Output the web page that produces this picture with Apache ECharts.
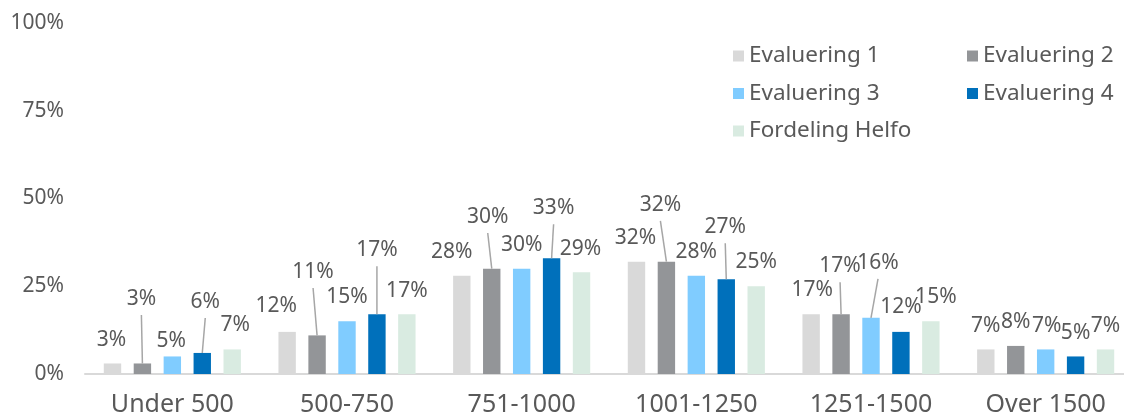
<!DOCTYPE html>
<html>
<head>
<meta charset="utf-8">
<script src="https://cdn.jsdelivr.net/npm/echarts@6/dist/echarts.min.js"></script>
<style>
html,body{margin:0;padding:0;background:#fff;}
#chart{width:1124px;height:414px;}
</style>
</head>
<body>
<div id="chart"></div>
<script>
// ---- data ----
const categories = ['Under 500', '500-750', '751-1000', '1001-1250', '1251-1500', 'Over 1500'];
const seriesNames = ['Evaluering 1', 'Evaluering 2', 'Evaluering 3', 'Evaluering 4', 'Fordeling Helfo'];
const evaluering1 = [3, 12, 28, 32, 17, 7];
const evaluering2 = [3, 11, 30, 32, 17, 8];
const evaluering3 = [5, 15, 30, 28, 16, 7];
const evaluering4 = [6, 17, 33, 27, 12, 5];
const fordelingHelfo = [7, 17, 29, 25, 15, 7];
const yTicks = [0, 25, 50, 75, 100];

// ---- label placement tweaks (px): horizontal shift, lift above bar top, leader line ----
const labelDx = [
  [-1, -11, -10, -1, 1, 0],
  [-1, -4, -4, -6, -1, 0],
  [-1, 0, 0, 0, 7, 1],
  [3, 0, 2, -1, 0, 0],
  [3, 0, -1, 0, 5, 0]
];
const labelLift = [
  [23.5, 26, 23.7, 23.7, 24, 23.4],
  [64.5, 63.4, 51.7, 56.7, 48, 24],
  [15.5, 24.3, 23.7, 23.7, 55, 23.4],
  [51, 64, 50, 52, 25, 23.5],
  [24.4, 23.3, 23, 24, 24, 23.4]
];
const leader = [
  [0, 0, 0, 0, 0, 0],
  [1, 1, 1, 1, 1, 0],
  [0, 0, 0, 0, 1, 0],
  [1, 1, 1, 1, 0, 0],
  [0, 0, 0, 0, 0, 0]
];

const colors = ['#D9D9D9', '#939598', '#80CCFF', '#0070BB', '#D9EBE1'];
const seriesValues = [evaluering1, evaluering2, evaluering3, evaluering4, fordelingHelfo];
const FONT = 'Noto Sans';
const TXT = '#595959';
const LH = 21;
const BAR_W = 17.4;
const BAR_GAP = 0.72;
const PITCH = BAR_W * (1 + BAR_GAP);

const series = seriesValues.map((vals, si) => ({
  name: seriesNames[si],
  type: 'bar',
  barWidth: BAR_W,
  barGap: (BAR_GAP * 100) + '%',
  itemStyle: { color: colors[si] },
  label: {
    show: true,
    position: 'top',
    distance: 0,
    color: TXT,
    fontFamily: FONT,
    fontSize: 21,
    lineHeight: LH,
    formatter: p => p.value + '%'
  },
  data: vals.map((v, ci) => ({
    value: v,
    label: { offset: [labelDx[si][ci], LH / 2 - labelLift[si][ci]] }
  }))
}));

// leader lines, positioned through the axes
const leaderData = [];
seriesValues.forEach((vals, si) => vals.forEach((v, ci) => {
  if (leader[si][ci]) leaderData.push([ci, v, si, labelLift[si][ci], labelDx[si][ci]]);
}));
series.push({
  name: 'leaders',
  type: 'custom',
  silent: true,
  z: 5,
  data: leaderData,
  renderItem: function (params, api) {
    const p = api.coord([api.value(0), api.value(1)]);
    const si = api.value(2), lift = api.value(3), dx = api.value(4);
    const x = p[0] + (si - 2) * PITCH;
    return {
      type: 'line',
      shape: { x1: x, y1: p[1], x2: x + dx, y2: p[1] - lift + 16 },
      style: { stroke: '#A6A6A6', lineWidth: 1.5 }
    };
  }
});

const legendCommon = {
  orient: 'vertical',
  icon: 'rect',
  padding: 0,
  itemWidth: 11,
  itemHeight: 11,
  itemGap: 14.5,
  top: 44.5,
  textStyle: { color: TXT, fontFamily: FONT, fontSize: 22.5, lineHeight: 22 }
};

const chart = echarts.init(document.getElementById('chart'), null, { renderer: 'canvas' });
chart.setOption({
  animation: false,
  backgroundColor: '#fff',
  grid: { left: 85, right: -9, top: 23, bottom: 40, containLabel: false, outerBoundsMode: 'none' },
  legend: [
    Object.assign({}, legendCommon, { left: 733, data: [seriesNames[0], seriesNames[2], seriesNames[4]] }),
    Object.assign({}, legendCommon, { left: 967, data: [seriesNames[1], seriesNames[3]] })
  ],
  xAxis: {
    type: 'category',
    data: categories,
    axisTick: { show: false },
    axisLine: { lineStyle: { color: '#D9D9D9', width: 2 } },
    axisLabel: { color: TXT, fontFamily: FONT, fontSize: 25, margin: 18, interval: 0 }
  },
  yAxis: {
    type: 'value',
    min: yTicks[0],
    max: yTicks[yTicks.length - 1],
    interval: yTicks[1] - yTicks[0],
    splitLine: { show: false },
    axisLine: { show: false },
    axisTick: { show: false },
    axisLabel: { color: TXT, fontFamily: FONT, fontSize: 21, margin: 21, formatter: v => v + '%' }
  },
  series: series
});
</script>
</body>
</html>
